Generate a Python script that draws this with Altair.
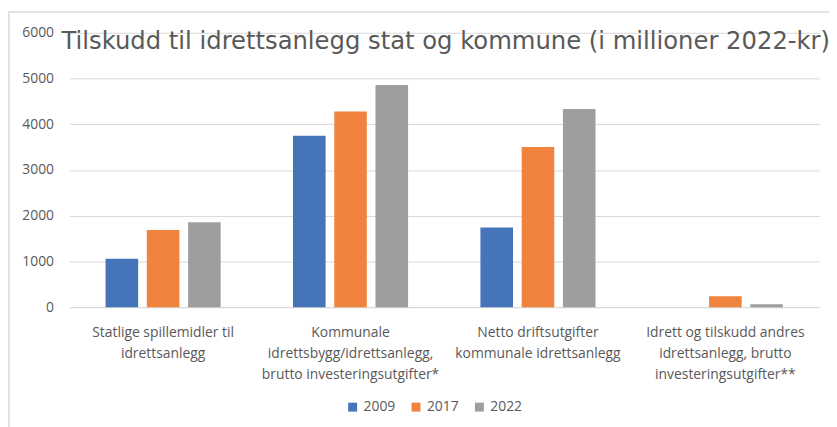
import altair as alt
import pandas as pd

categories = [
    "Statlige spillemidler til|idrettsanlegg",
    "Kommunale|idrettsbygg/idrettsanlegg,|brutto investeringsutgifter*",
    "Netto driftsutgifter|kommunale idrettsanlegg",
    "Idrett og tilskudd andres|idrettsanlegg, brutto|investeringsutgifter**",
]
years = ["2009", "2017", "2022"]
values_2009 = [1058, 3750, 1740, 0]
values_2017 = [1685, 4278, 3505, 238]
values_2022 = [1857, 4860, 4333, 65]
colors = ["#4674B9", "#F0843E", "#9E9E9E"]
y_ticks = [0, 1000, 2000, 3000, 4000, 5000, 6000]
title_text = "Tilskudd til idrettsanlegg stat og kommune (i millioner 2022-kr)"

rows = []
for yr, vals in zip(years, [values_2009, values_2017, values_2022]):
    for c, v in zip(categories, vals):
        rows.append({"kategori": c, "år": yr, "verdi": v})
df = pd.DataFrame(rows)

TXT = "#595959"
FONT = "Open Sans"

bars = alt.Chart(df).mark_bar().encode(
    x=alt.X(
        "kategori:N",
        sort=categories,
        scale=alt.Scale(paddingInner=0.386, paddingOuter=0.193),
        axis=alt.Axis(
            title=None,
            labelAngle=0,
            labelExpr="split(datum.label, '|')",
            labelFont=FONT,
            labelFontSize=14,
            labelColor=TXT,
            labelLineHeight=21,
            labelPadding=19,
            labelLimit=400,
            ticks=False,
            domainColor="#D9D9D9",
            domainWidth=1,
        ),
    ),
    xOffset=alt.XOffset("år:N", sort=years, scale=alt.Scale(paddingInner=0.21)),
    y=alt.Y(
        "verdi:Q",
        scale=alt.Scale(domain=[0, 6000], nice=False),
        axis=alt.Axis(
            title=None,
            values=y_ticks,
            format="d",
            labelFont=FONT,
            labelFontSize=14,
            labelColor=TXT,
            labelPadding=16,
            ticks=False,
            domain=False,
            gridColor="#D9D9D9",
            gridWidth=1,
        ),
    ),
    color=alt.Color(
        "år:N",
        sort=years,
        scale=alt.Scale(domain=years, range=colors),
        legend=alt.Legend(
            title=None,
            orient="none",
            legendX=279,
            legendY=371,
            direction="horizontal",
            symbolType="square",
            symbolSize=81,
            symbolStrokeWidth=0,
            labelFont=FONT,
            labelFontSize=14,
            labelColor=TXT,
            labelOffset=4,
            columnPadding=13,
        ),
    ),
)

frame = alt.Chart(pd.DataFrame({"a": [0]})).mark_rect(
    fillOpacity=0, stroke="#D9D9D9", strokeWidth=1.5
).encode(
    x=alt.value(-61), x2=alt.value(820), y=alt.value(-21), y2=alt.value(430)
)

title = alt.Chart(pd.DataFrame({"t": [title_text]})).mark_text(
    font="DejaVu Sans",
    fontSize=24.5,
    color=TXT,
    align="left",
    baseline="alphabetic",
).encode(
    text="t:N", x=alt.value(-8), y=alt.value(16)
)

chart = alt.layer(frame, bars, title).properties(
    width=757,
    height=277,
    autosize=alt.AutoSizeParams(type="none"),
    padding={"left": 62, "top": 23, "right": 10, "bottom": 120},
).configure_view(stroke=None)

chart.save("out.html", embed_options={"renderer": "svg", "actions": False})
